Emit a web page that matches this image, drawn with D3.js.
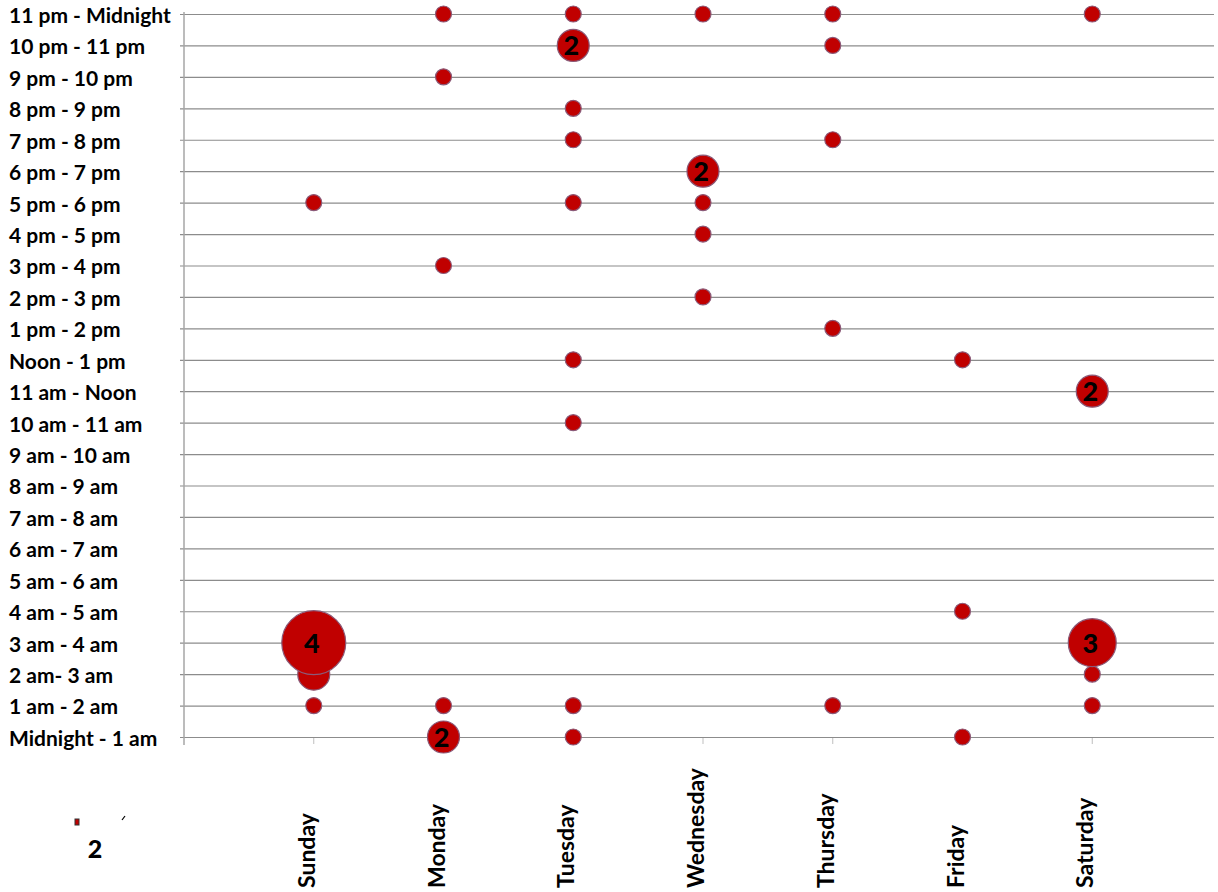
<!DOCTYPE html>
<html><head><meta charset="utf-8">
<script src="https://cdn.jsdelivr.net/npm/d3@7"></script>
<style>body{margin:0;background:#fff}svg{display:block}</style>
</head><body><svg id="c" width="1218" height="892"></svg>
<script>
const days = ["Sunday","Monday","Tuesday","Wednesday","Thursday","Friday","Saturday"];
const hours = ["Midnight - 1 am","1 am - 2 am","2 am- 3 am","3 am - 4 am","4 am - 5 am","5 am - 6 am","6 am - 7 am","7 am - 8 am","8 am - 9 am","9 am - 10 am","10 am - 11 am","11 am - Noon","Noon - 1 pm","1 pm - 2 pm","2 pm - 3 pm","3 pm - 4 pm","4 pm - 5 pm","5 pm - 6 pm","6 pm - 7 pm","7 pm - 8 pm","8 pm - 9 pm","9 pm - 10 pm","10 pm - 11 pm","11 pm - Midnight"];
// [day, hour slot, count, show label]
const points = [
 ["Monday","11 pm - Midnight",1,0],["Tuesday","11 pm - Midnight",1,0],["Wednesday","11 pm - Midnight",1,0],["Thursday","11 pm - Midnight",1,0],["Saturday","11 pm - Midnight",1,0],
 ["Tuesday","10 pm - 11 pm",2,1],["Thursday","10 pm - 11 pm",1,0],
 ["Monday","9 pm - 10 pm",1,0],
 ["Tuesday","8 pm - 9 pm",1,0],
 ["Tuesday","7 pm - 8 pm",1,0],["Thursday","7 pm - 8 pm",1,0],
 ["Wednesday","6 pm - 7 pm",2,1],
 ["Sunday","5 pm - 6 pm",1,0],["Tuesday","5 pm - 6 pm",1,0],["Wednesday","5 pm - 6 pm",1,0],
 ["Wednesday","4 pm - 5 pm",1,0],
 ["Monday","3 pm - 4 pm",1,0],
 ["Wednesday","2 pm - 3 pm",1,0],
 ["Thursday","1 pm - 2 pm",1,0],
 ["Tuesday","Noon - 1 pm",1,0],["Friday","Noon - 1 pm",1,0],
 ["Saturday","11 am - Noon",2,1],
 ["Tuesday","10 am - 11 am",1,0],
 ["Friday","4 am - 5 am",1,0],
 ["Sunday","2 am- 3 am",2,0],["Saturday","2 am- 3 am",1,0],
 ["Sunday","3 am - 4 am",4,1],["Saturday","3 am - 4 am",3,1],
 ["Sunday","1 am - 2 am",1,0],["Monday","1 am - 2 am",1,0],["Tuesday","1 am - 2 am",1,0],["Thursday","1 am - 2 am",1,0],["Saturday","1 am - 2 am",1,0],
 ["Monday","Midnight - 1 am",2,1],["Tuesday","Midnight - 1 am",1,0],["Friday","Midnight - 1 am",1,0]
];

const svg = d3.select("#c");
const x = d3.scaleLinear().domain([0, 8]).range([184, 1222]);
const y = d3.scaleLinear().domain([0, hours.length - 1]).range([737, 14]);
const r = d3.scaleLinear().domain([0, 4]).range([0, 32]);
const font = "Lato, 'Open Sans', sans-serif";

// gridlines + y labels
const yAxis = d3.axisLeft(y).tickValues(d3.range(hours.length)).tickSize(-(1214 - 184)).tickSizeOuter(0).tickFormat(i => hours[i]).tickPadding(0);
const gy = svg.append("g").attr("transform", "translate(184,0)").call(yAxis);
gy.select(".domain").remove();
gy.selectAll(".tick line").attr("x1", -4).attr("stroke", "#8c8c8c").attr("stroke-width", 1.2);
gy.selectAll(".tick text").attr("x", 9 - 184).attr("text-anchor", "start").attr("dy", "0.4em")
  .attr("font-family", font).attr("font-weight", "bold").attr("font-size", 21).attr("fill", "#000");

// vertical axis line
svg.append("line").attr("x1", 184).attr("x2", 184).attr("y1", 12).attr("y2", 745)
  .attr("stroke", "#a6a6a6").attr("stroke-width", 1.5);

// x axis ticks and labels
const gx = svg.append("g");
gx.selectAll("line.xt").data(days).join("line").attr("class", "xt")
  .attr("x1", (d, i) => x(i + 1)).attr("x2", (d, i) => x(i + 1)).attr("y1", 738).attr("y2", 744)
  .attr("stroke", "#bfbfbf").attr("stroke-width", 1);
gx.selectAll("text").data(days).join("text")
  .attr("transform", (d, i) => `translate(${x(i + 1) + 1},888) rotate(-90)`)
  .attr("text-anchor", "start").attr("font-family", font).attr("font-weight", "bold")
  .attr("font-size", 23).attr("fill", "#000").text(d => d);

// bubbles
const gb = svg.append("g");
gb.selectAll("circle").data(points).join("circle")
  .attr("cx", d => x(days.indexOf(d[0]) + 1))
  .attr("cy", d => y(hours.indexOf(d[1])))
  .attr("r", d => r(d[2]))
  .attr("fill", "#c00000").attr("stroke", "#8b5a78").attr("stroke-width", 1.2);
gb.selectAll("text").data(points.filter(d => d[3])).join("text")
  .attr("x", d => x(days.indexOf(d[0]) + 1) - 2)
  .attr("y", d => y(hours.indexOf(d[1])) + 10)
  .attr("text-anchor", "middle").attr("font-family", font).attr("font-weight", 900)
  .attr("font-size", 27).attr("fill", "#000").text(d => d[2]);

// legend artefact
const leg = svg.append("g");
leg.append("rect").attr("x", 75).attr("y", 819).attr("width", 4).attr("height", 6)
  .attr("fill", "#c00000").attr("stroke", "#333").attr("stroke-width", 1);
leg.append("text").attr("x", 95).attr("y", 858).attr("text-anchor", "middle")
  .attr("font-family", font).attr("font-weight", 900).attr("font-size", 25).text("2");
leg.append("line").attr("x1", 122).attr("y1", 820).attr("x2", 125).attr("y2", 816)
  .attr("stroke", "#000").attr("stroke-width", 1.2);
</script></body></html>
